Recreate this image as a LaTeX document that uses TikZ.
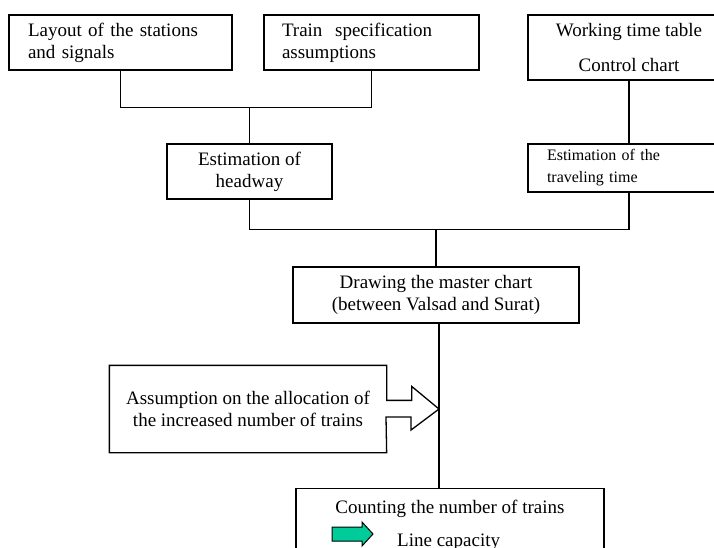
\documentclass[tikz,border=0pt]{standalone}
\usepackage{fontspec}
\setmainfont{Liberation Serif}
\usepackage{tikz}
\usepackage{xcolor}
\definecolor{capgreen}{RGB}{0,204,153}

\tikzset{
  box/.style={draw, line width=1.3pt, inner sep=0pt, align=center,
    font=\fontsize{19}{22}\selectfont},
  wire/.style={line width=1.3pt}
}

\begin{document}
\begin{tikzpicture}[x=1pt,y=-1pt]
    \useasboundingbox (0,0) rectangle (714,548);
    \node[box, minimum width=223, minimum height=55, text width=185, align=left] (layout) at (120.5,42.5) {Layout of the stations\\and signals};
    \node[box, minimum width=215, minimum height=55, text width=179, align=left] (spec) at (371.5,42.5) {Train\ \ specification\\assumptions};
    \node[box, minimum width=202, minimum height=65] (work) at (629,47.5) {Working time table\\[13pt]Control chart};
    \node[box, minimum width=165, minimum height=55] (headway) at (249.5,171.5) {Estimation of\\headway};
    \node[box, minimum width=202, minimum height=48, text width=164, align=left, font=\fontsize{16}{22}\selectfont] (travel) at (629,168) {Estimation of the\\traveling time};
    \node[box, minimum width=286, minimum height=56] (master) at (436,295) {Drawing the master chart\\(between Valsad and Surat)};
    \node[box, draw=none, minimum width=276, minimum height=86] (assume) at (248,409) {Assumption on the allocation of\\the increased number of trains};
    \node[box, anchor=north, minimum width=308, minimum height=92] (count) at (450,488) {};
    \node[font=\fontsize{19}{22}\selectfont, anchor=base, inner sep=0pt] (counttxt) at (450,513) {Counting the number of trains};
    \node[font=\fontsize{19}{22}\selectfont, anchor=base west, inner sep=0pt] (captxt) at (397,546) {Line capacity};

    % joins
    \draw[wire] (layout.south) -- ++(0,37) coordinate (j1) -| (spec.south);
    \draw[wire] (headway.north) -- (headway.north |- j1);
    \draw[wire] (work.south) -- (travel.north);
    \draw[wire] (headway.south) -- ++(0,30) coordinate (j2) -| (travel.south);
    \draw[wire] (master.north) -- (master.north |- j2);
    \coordinate (mstem) at ([xshift=3pt]master.south);
    \draw[wire] (mstem) -- (mstem |- count.north);

    % box with block arrow
    \coordinate (tip) at (mstem |- assume.east);
    \draw[wire] (assume.north west) -- (assume.north east) -- ++(0,35) -- ++(25,0) -- ++(0,-14)
        -- (tip) -- ++(-28,21) -- ++(0,-13) -- ++(-25,0) -- (assume.south east) -- (assume.south west) -- cycle;

    % green arrow
    \coordinate (gtip) at (373,534);
    \draw[line width=1pt, fill=capgreen] (332,527) -- (362,527) -- (362,522) -- (gtip) -- (362,546) -- (362,541) -- (332,541) -- cycle;
\end{tikzpicture}
\end{document}
